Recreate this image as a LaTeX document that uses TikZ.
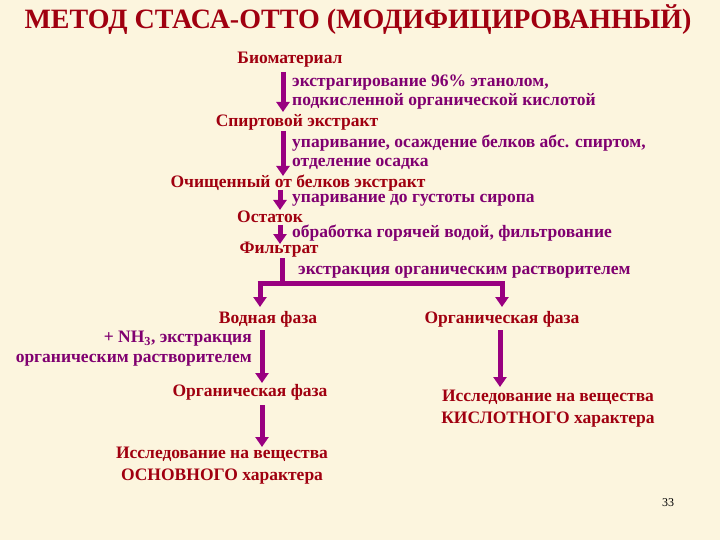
\documentclass[tikz,border=0pt]{standalone}
\usepackage{fontspec}
\setmainfont{Liberation Serif}
\usetikzlibrary{arrows.meta}
\definecolor{bg}{HTML}{FCF5DE}
\definecolor{prod}{HTML}{A00010}
\definecolor{step}{HTML}{800070}
\definecolor{arr}{HTML}{990080}
\tikzset{
  prodtxt/.style={text=prod,font=\bfseries\fontsize{17.5}{18}\selectfont,inner sep=0pt,align=center},
  steptxt/.style={text=step,font=\bfseries\fontsize{17.5}{19}\selectfont,inner sep=0pt,align=left,anchor=west},
  flow/.style={draw=arr,line width=5pt,-{Triangle[width=13pt,length=10pt]}},
  bar/.style={draw=arr,line width=5pt}
}
\begin{document}
\begin{tikzpicture}[x=1pt,y=-1pt]
\fill[bg] (0,0) rectangle (720,540);
\useasboundingbox (0,0) rectangle (720,540);
\node[text=prod,font=\bfseries\fontsize{28}{30}\selectfont,inner sep=0pt] (title) at (358,20) {МЕТОД СТАСА-ОТТО (МОДИФИЦИРОВАННЫЙ)};
\node[prodtxt] (bio) at (290,60) {Биоматериал};
\node[prodtxt] (spirt) at (297,122) {Спиртовой экстракт};
\node[prodtxt] (och) at (298,183) {Очищенный от белков экстракт};
\node[prodtxt] (ost) at (270,217) {Остаток};
\node[prodtxt] (filt) at (279,250) {Фильтрат};
\node[steptxt] (s1) at (292,92) {экстрагирование 96\% этанолом,\\подкисленной органической кислотой};
\node[steptxt] (s2) at (292,152) {упаривание, осаждение белков абс. спиртом,\\отделение осадка};
\node[steptxt] (s3) at (292,200) {упаривание до густоты сиропа};
\node[steptxt] (s4) at (292,233) {обработка горячей водой, фильтрование};
\node[steptxt] (s5) at (298,272) {экстракция органическим растворителем};
\coordinate (a1s) at (283,72); \coordinate (a1e) at (283,112);
\draw[flow] (a1s) -- (a1e);
\coordinate (a2s) at (283,131); \coordinate (a2e) at (283,176);
\draw[flow] (a2s) -- (a2e);
\coordinate (a3s) at (280,190); \coordinate (a3e) at (280,210);
\draw[flow] (a3s) -- (a3e);
\coordinate (a4s) at (280,225); \coordinate (a4e) at (280,244);
\draw[flow] (a4s) -- (a4e);
\coordinate (f0) at (282,258); \coordinate (f1) at (282,283);
\coordinate (bl) at (260,283); \coordinate (br) at (502,283);
\draw[bar] (f0) -- (f1);
\draw[bar] ([xshift=-2.5pt]bl) -- ([xshift=2.5pt]br);
\node[prodtxt] (voda) at (268,319) {Водная фаза};
\node[prodtxt] (org1) at (502,319) {Органическая фаза};
\draw[flow] ([yshift=-2.5pt]bl) -- (260,307);
\draw[flow] ([yshift=-2.5pt]br) -- (502,307);
\node[text=step,font=\bfseries\fontsize{17.5}{20}\selectfont,inner sep=0pt,align=right,anchor=east] (s6) at (252,349) {+ NH\textsubscript{3}, экстракция\\органическим растворителем};
\node[prodtxt] (org2) at (250,392) {Органическая фаза};
\node[prodtxt,font=\bfseries\fontsize{17.5}{22}\selectfont] (isl1) at (222,466) {Исследование на вещества\\ОСНОВНОГО характера};
\node[prodtxt,font=\bfseries\fontsize{17.5}{22}\selectfont] (isl2) at (548,409) {Исследование на вещества\\КИСЛОТНОГО характера};
\draw[flow] (262,330) -- (262,383);
\draw[flow] (262,405) -- (262,447);
\draw[flow] (500,330) -- (500,387);
\node[font=\fontsize{12}{14}\selectfont,inner sep=0pt] (pg) at (668,503) {33};
\end{tikzpicture}
\end{document}
